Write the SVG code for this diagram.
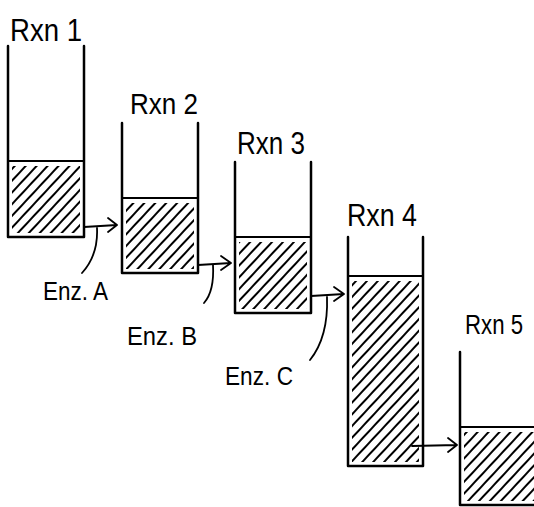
<svg xmlns="http://www.w3.org/2000/svg" width="534" height="507" viewBox="0 0 534 507">
<style>
.wall{fill:none;stroke:#000;stroke-width:2.5;stroke-linecap:round;stroke-linejoin:round}
.lvl{fill:none;stroke:#000;stroke-width:2.2}
.hatch{stroke:none}
.lbl{font-family:"Liberation Sans","DejaVu Sans",sans-serif;fill:#000}
.con{fill:none;stroke:#000;stroke-width:1.8;stroke-linecap:round;stroke-linejoin:round}
</style>
<defs>
<pattern id="hp" patternUnits="userSpaceOnUse" width="8" height="8" patternTransform="rotate(43)">
<line x1="4" y1="0" x2="4" y2="8" stroke="#000" stroke-width="2"/>
</pattern>
</defs>
<rect width="534" height="507" fill="#fff"/>
<g id="rxn1">
<text class="lbl" x="10" y="41" font-size="32" textLength="72" lengthAdjust="spacingAndGlyphs">Rxn 1</text>
<rect class="hatch" x="12" y="166" width="68" height="67" fill="url(#hp)"/>
<path class="wall" d="M8,46 V237 H84 V46"/>
<line class="lvl" x1="8" y1="161" x2="84" y2="161"/>
</g>
<g id="rxn2">
<text class="lbl" x="130" y="114" font-size="30" textLength="68" lengthAdjust="spacingAndGlyphs">Rxn 2</text>
<rect class="hatch" x="126" y="203" width="68" height="66" fill="url(#hp)"/>
<path class="wall" d="M122,123 V273 H198 V123"/>
<line class="lvl" x1="122" y1="198" x2="198" y2="198"/>
</g>
<g id="rxn3">
<text class="lbl" x="237" y="154" font-size="31" textLength="68" lengthAdjust="spacingAndGlyphs">Rxn 3</text>
<rect class="hatch" x="239" y="242" width="68" height="67" fill="url(#hp)"/>
<path class="wall" d="M235,162 V313 H311 V162"/>
<line class="lvl" x1="235" y1="237" x2="311" y2="237"/>
</g>
<g id="rxn4">
<text class="lbl" x="347" y="226" font-size="31" textLength="70" lengthAdjust="spacingAndGlyphs">Rxn 4</text>
<rect class="hatch" x="352" y="281" width="67" height="181" fill="url(#hp)"/>
<path class="wall" d="M348,237 V466 H423 V237"/>
<line class="lvl" x1="348" y1="276" x2="423" y2="276"/>
</g>
<g id="rxn5">
<text class="lbl" x="465" y="334" font-size="27" textLength="58" lengthAdjust="spacingAndGlyphs">Rxn 5</text>
<rect class="hatch" x="464" y="432" width="74" height="69" fill="url(#hp)"/>
<path class="wall" d="M460,352 V505 H540"/>
<line class="lvl" x1="460" y1="427" x2="540" y2="427"/>
</g>
<g id="connectors">
<g id="enzA">
<path class="con" d="M84,227 L117,225 M108,218 L117,225 L108,232"/>
<path class="con" d="M97,228 C98,248 92,262 82,273"/>
<text class="lbl" x="43" y="300" font-size="26" textLength="65" lengthAdjust="spacingAndGlyphs">Enz. A</text>
</g>
<g id="enzB">
<path class="con" d="M198,265 L231,263 M221,256 L231,263 L221,270"/>
<path class="con" d="M213,265 C214,283 211,295 204,303"/>
<text class="lbl" x="127" y="345" font-size="26" textLength="70" lengthAdjust="spacingAndGlyphs">Enz. B</text>
</g>
<g id="enzC">
<path class="con" d="M311,296 L344,294 M334,287 L344,294 L334,301"/>
<path class="con" d="M327,297 C328,325 322,345 310,360"/>
<text class="lbl" x="225" y="385" font-size="26" textLength="68" lengthAdjust="spacingAndGlyphs">Enz. C</text>
</g>
<path id="toRxn5" class="con" d="M412,446 L457,445 M448,438 L457,445 L448,452"/>
</g>
</svg>
